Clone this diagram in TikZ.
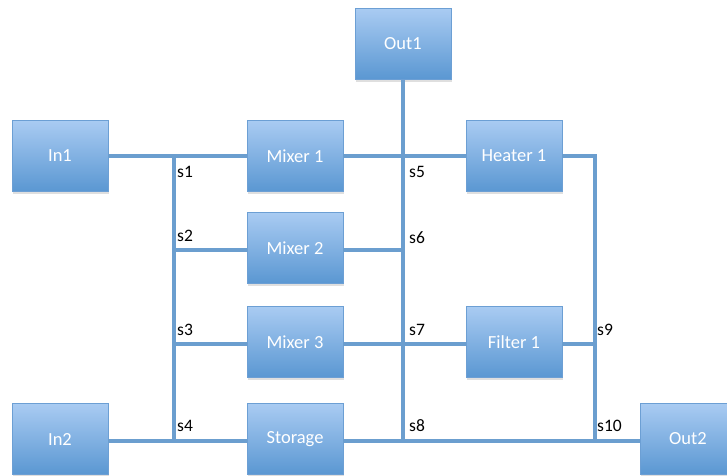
\documentclass[tikz,border=0pt]{standalone}
\usepackage{fontspec}
\setmainfont{Carlito}
\usetikzlibrary{shadows}
\definecolor{boxtop}{HTML}{A9CBF2}
\definecolor{boxbot}{HTML}{5A97D2}
\definecolor{boxedge}{HTML}{6C9FD4}
\definecolor{wire}{HTML}{6B9ECF}
\begin{document}
\begin{tikzpicture}[x=1pt,y=-1pt,
  unit/.style={draw=boxedge, line width=0.8pt, top color=boxtop, bottom color=boxbot,
    minimum width=96pt, minimum height=71pt, inner sep=0pt, text=white,
    font=\fontsize{18.5}{20}\selectfont,
    drop shadow={opacity=0.25, shadow xshift=1pt, shadow yshift=-2pt}},
  wireline/.style={draw=wire, line width=3.8pt},
  slabel/.style={anchor=west, inner sep=0pt, font=\fontsize{17.5}{19}\selectfont}]
\useasboundingbox (0,0) rectangle (727,475);
\begin{scope}
\clip (0,0) rectangle (727,475);
% junction coordinates
\coordinate (j1) at (174,156);
\coordinate (j2) at (174,250);
\coordinate (j3) at (174,344);
\coordinate (j4) at (174,441);
\coordinate (j5) at (403,156);
\coordinate (j6) at (403,250);
\coordinate (j7) at (403,344);
\coordinate (j8) at (403,441);
\coordinate (j9) at (595,344);
\coordinate (j10) at (595,441);
\coordinate (jh) at (595,156);
% nodes
\node[unit] (in1) at (60,156) {In1};
\node[unit] (mix1) at (295,156) {Mixer 1};
\node[unit] (out1) at (403,44) {Out1};
\node[unit] (heat1) at (514,156) {Heater 1};
\node[unit] (mix2) at (295,248) {Mixer 2};
\node[unit] (mix3) at (295,342) {Mixer 3};
\node[unit] (filt1) at (514,342) {Filter 1};
\node[unit] (in2) at (60,439) {\raisebox{-3pt}{In2}};
\node[unit] (stor) at (295,439) {\raisebox{-3pt}{Storage}};
\node[unit] (out2) at (688,439) {\raisebox{-3pt}{Out2}};
% wires
\draw[wireline] (in1.east |- j1) -- (mix1.west |- j1);
\draw[wireline] (mix1.east |- j5) -- (heat1.west |- j5);
\draw[wireline, line join=miter] (heat1.east |- jh) -- (jh) -- (j10);
\draw[wireline] (j1) -- (j4);
\draw[wireline] (out1.south) -- (j8);
\draw[wireline] (j2) -- (mix2.west |- j2);
\draw[wireline] (mix2.east |- j6) -- (j6);
\draw[wireline] (j3) -- (mix3.west |- j3);
\draw[wireline] (mix3.east |- j7) -- (filt1.west |- j7);
\draw[wireline] (filt1.east |- j9) -- (j9);
\draw[wireline] (in2.east |- j4) -- (stor.west |- j4);
\draw[wireline] (stor.east |- j8) -- (out2.west |- j10);
\end{scope}
% labels
\node[slabel] (l1) at (177,172) {s1};
\node[slabel] (l2) at (177,236) {s2};
\node[slabel] (l3) at (177,330) {s3};
\node[slabel] (l4) at (177,426) {s4};
\node[slabel] (l5) at (409,172) {s5};
\node[slabel] (l6) at (409,238) {s6};
\node[slabel] (l7) at (409,330) {s7};
\node[slabel] (l8) at (409,426) {s8};
\node[slabel] (l9) at (597,330) {s9};
\node[slabel] (l10) at (597,426) {s10};
\end{tikzpicture}
\end{document}
